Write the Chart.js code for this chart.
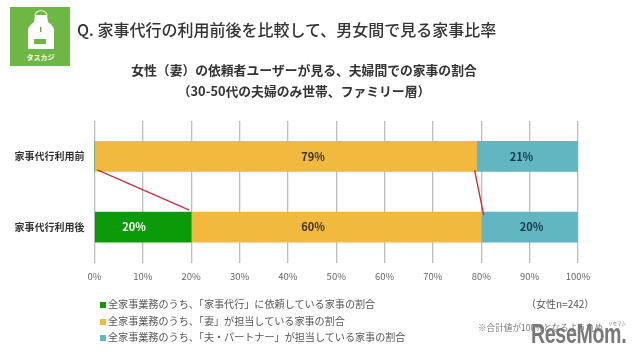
<!DOCTYPE html>
<html lang="ja">
<head>
<meta charset="utf-8">
<script src="https://cdn.jsdelivr.net/npm/chart.js@4"></script>
<style>
html,body{margin:0;padding:0;background:#fff;width:640px;height:356px;overflow:hidden}
body{position:relative;font-family:"Noto Sans CJK JP","Noto Sans",sans-serif}
#c{position:absolute;left:0;top:0}
.t{position:absolute;white-space:nowrap}
#heading{left:77px;top:18px;font-size:16px;line-height:22px;color:#333;font-weight:500}
#logo{position:absolute;left:10px;top:7px;width:60px;height:59px;background:#6fb745}
#legend{position:absolute;left:100px;top:296px;font-size:10.1px;line-height:16.7px;color:#555}
#legend i{display:inline-block;width:6px;height:6px;margin-right:2px;vertical-align:0}
#n{left:526px;top:296px;font-size:10px;line-height:16px;color:#555}
#note{left:478px;top:321px;font-size:8.6px;line-height:12px;color:#777}
#mark{left:531px;top:319px;font:bold 28px/30px "Liberation Sans",sans-serif;color:#77797b;letter-spacing:-.5px;transform:scaleX(.7);transform-origin:0 0}
#ruby{left:608px;top:320px;font-size:4.5px;line-height:6px;color:#77797b}
</style>
</head>
<body>
<canvas id="c" width="640" height="356"></canvas>
<div class="t" id="heading"></div>
<div id="logo">
<svg width="60" height="59" viewBox="0 0 60 59">
<path d="M25 9 C25 2 37 2 37 9" fill="none" stroke="#e3f0d8" stroke-width="1.2"/>
<path d="M25 8 H37 L38 15 C41 17 43 19 44 22 V42 H18 V22 C19 19 21 17 24 15 Z" fill="#fff"/>
<rect x="24" y="32" width="12" height="5" fill="#6fb745"/>
<rect x="30" y="20" width="1.4" height="5" fill="#7a9a50"/>
<text x="30.5" y="53" font-size="7" font-weight="700" fill="#fff" text-anchor="middle" font-family="Noto Sans CJK JP">タスカジ</text>
</svg>
</div>
<div id="legend"></div>
<div class="t" id="n"></div>
<div class="t" id="note"></div>
<div class="t" id="mark"></div>
<div class="t" id="ruby"></div>
<script>
const heading = "Q. 家事代行の利用前後を比較して、男女間で見る家事比率";
const chartTitle = ["女性（妻）の依頼者ユーザーが見る、夫婦間での家事の割合", "（30-50代の夫婦のみ世帯、ファミリー層）"];
const categories = ["家事代行利用前", "家事代行利用後"];
const seriesNames = ["全家事業務のうち、「家事代行」に依頼している家事の割合", "全家事業務のうち、「妻」が担当している家事の割合", "全家事業務のうち、「夫・パートナー」が担当している家事の割合"];
const agencyValues = [0, 20];
const wifeValues = [79, 60];
const partnerValues = [21, 20];
const seriesColors = ["#0b9a08", "#f2b93f", "#62b6c2"];
const labelColors = ["#ffffff", "#3a3320", "#17354a"];
const labelAnchors = [[null, 8.2], [45.2, 45.2], [88.3, 90.4]];
const connectors = [[0.6, 0.19, 19.6, 0.76], [78.6, 0.19, 80.5, 0.83]];
const sampleNote = "（女性n=242）";
const footNote = "※合計値が100%となるよう丸め";
const watermark = "ReseMom.";
const watermarkRuby = "リセマム";

document.getElementById("heading").textContent = heading;
document.getElementById("n").textContent = sampleNote;
document.getElementById("note").textContent = footNote;
document.getElementById("mark").textContent = watermark;
document.getElementById("ruby").textContent = watermarkRuby;
document.getElementById("legend").innerHTML = seriesNames.map((s, i) =>
  '<div><i style="background:' + seriesColors[i] + '"></i>' + s + '</div>').join("");

const overlay = {
  id: "overlay",
  afterLayout(chart) {
    chart.titleBlock.left = 0;
    chart.titleBlock.right = 608;
  },
  afterDatasetsDraw(chart) {
    const {ctx, scales: {x, y}} = chart;
    ctx.save();
    ctx.strokeStyle = "#c8323c";
    ctx.lineWidth = 1.4;
    connectors.forEach(c => {
      ctx.beginPath();
      ctx.moveTo(x.getPixelForValue(c[0]), y.getPixelForValue(c[1]));
      ctx.lineTo(x.getPixelForValue(c[2]), y.getPixelForValue(c[3]));
      ctx.stroke();
    });
    ctx.font = 'bold 11px "Noto Sans CJK JP"';
    ctx.textAlign = "center";
    ctx.textBaseline = "middle";
    chart.data.datasets.forEach((ds, i) => {
      chart.getDatasetMeta(i).data.forEach((bar, j) => {
        const v = ds.data[j];
        if (!v) return;
        ctx.fillStyle = labelColors[i];
        ctx.fillText(v + "%", x.getPixelForValue(labelAnchors[i][j]), bar.y);
      });
    });
    ctx.restore();
  }
};

new Chart(document.getElementById("c"), {
  type: "bar",
  plugins: [overlay],
  data: {
    labels: categories,
    datasets: [agencyValues, wifeValues, partnerValues].map((d, i) => ({
      label: seriesNames[i], data: d, backgroundColor: seriesColors[i],
      barThickness: 30, borderWidth: 0
    }))
  },
  options: {
    indexAxis: "y",
    responsive: false,
    animation: false,
    layout: {padding: {left: 0, right: 62, top: 59.5, bottom: 66}},
    plugins: {
      legend: {display: false},
      tooltip: {enabled: false},
      title: {
        display: true, text: chartTitle, color: "#333",
        font: {family: '"Noto Sans CJK JP"', size: 12.8, weight: "bold", lineHeight: 1.64},
        padding: {top: 0, bottom: 19.5}
      }
    },
    scales: {
      x: {
        stacked: true, min: 0, max: 100,
        border: {display: false},
        grid: {color: "#bdbdbd", lineWidth: 1.3, drawTicks: false},
        ticks: {stepSize: 10, maxRotation: 0, padding: 8, color: "#666", callback: v => v + "%",
          font: {family: '"Noto Sans CJK JP"', size: 9.5}}
      },
      y: {
        stacked: true,
        border: {display: false},
        grid: {display: false},
        afterFit(s) { s.width = 94.5; },
        ticks: {padding: 2, color: "#333", font: {family: '"Noto Sans CJK JP"', size: 10, weight: "bold"}}
      }
    }
  }
});
</script>
</body>
</html>
